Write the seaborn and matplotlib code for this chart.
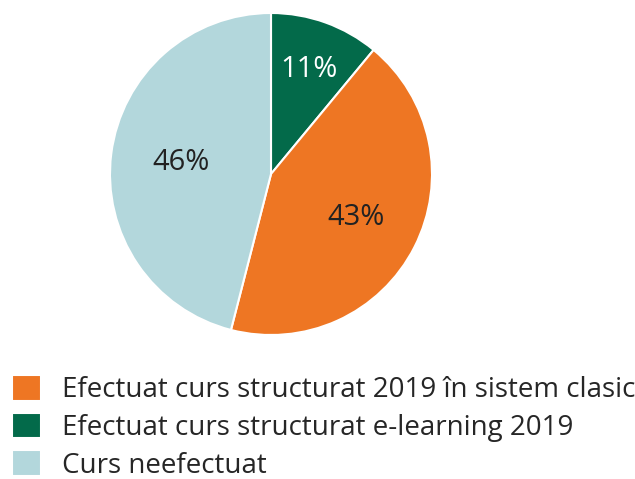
import matplotlib
matplotlib.use('Agg')

import matplotlib.pyplot as plt
import seaborn as sns

# data
labels = ['Efectuat curs structurat 2019 în sistem clasic',
          'Efectuat curs structurat e-learning 2019',
          'Curs neefectuat']
shares = [43, 11, 46]
colors = ['#ee7623', '#036a4a', '#b3d7dc']
text_colors = ['#222222', '#ffffff', '#222222']

sns.set_theme(style='white')
plt.rcParams['font.family'] = ['Open Sans', 'DejaVu Sans']

fig = plt.figure(figsize=(6.35, 4.79), dpi=100)
ax = fig.add_axes([110 / 635, 1 - 335 / 479, 322 / 635, 322 / 479])

# draw clockwise from the top, green first
order = [1, 0, 2]
wedges, texts, autotexts = ax.pie(
    [shares[i] for i in order],
    colors=[colors[i] for i in order],
    startangle=90, counterclock=False,
    autopct='%d%%', pctdistance=1.0,
    wedgeprops=dict(edgecolor='white', linewidth=1.5),
    textprops=dict(fontsize=21))
# label distance from centre differs a bit per slice
label_dist = {0: 0.59, 1: 0.69, 2: 0.56}
for t, i in zip(autotexts, order):
    t.set_color(text_colors[i])
    x, y = t.get_position()
    t.set_position((x * label_dist[i], y * label_dist[i]))
ax.set_xlim(-1.0, 1.0)
ax.set_ylim(-1.0, 1.0)
ax.set_aspect('equal')

# legend in original order
handles = [wedges[order.index(i)] for i in range(3)]
fig.legend(handles, labels, loc='upper left',
           bbox_to_anchor=(12 / 635, 1 - 375 / 479),
           frameon=False, fontsize=20, borderpad=0, borderaxespad=0,
           handlelength=1.05, handleheight=1.05, handletextpad=0.75,
           labelspacing=0.3)

fig.savefig('out.png', dpi=100)
